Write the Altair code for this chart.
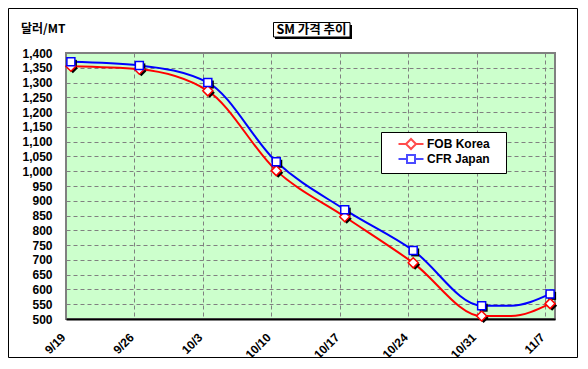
import altair as alt
import pandas as pd

# ---- data ----
dates = ["2008-09-19", "2008-09-26", "2008-10-03", "2008-10-10", "2008-10-17",
         "2008-10-24", "2008-10-31", "2008-11-03", "2008-11-07"]
has_marker = [1, 1, 1, 1, 1, 1, 1, 0, 1]
fob_korea = [1355, 1345, 1272, 1002, 846, 690, 510, 510, 552]
cfr_japan = [1370, 1358, 1300, 1032, 870, 732, 545, 545, 585]
series_names = ["FOB Korea", "CFR Japan"]
series_colors = ["#FF0000", "#0000FF"]
tick_dates = ["2008-09-19", "2008-09-26", "2008-10-03", "2008-10-10",
              "2008-10-17", "2008-10-24", "2008-10-31", "2008-11-07"]
y_ticks = [500, 550, 600, 650, 700, 750, 800, 850, 900, 950, 1000, 1050,
           1100, 1150, 1200, 1250, 1300, 1350, 1400]
chart_title = "SM 가격 추이"
unit_label = "달러/MT"

FONT = "Liberation Sans, Arial, 'Noto Sans CJK KR'"
KFONT = "'Noto Sans CJK KR', Liberation Sans"

rows = []
for name, vals in zip(series_names, [fob_korea, cfr_japan]):
    for d, m, v in zip(dates, has_marker, vals):
        rows.append({"t": d + "T12:00:00Z", "series": name, "value": v, "marker": m})
df = pd.DataFrame(rows)


def dt(s):
    y, m, d = (int(p) for p in s.split("-"))
    return alt.DateTime(year=y, month=m, date=d, utc=True)


x_enc = alt.X(
    "t:T",
    scale=alt.Scale(type="utc", domain=[dt("2008-09-19"), dt("2008-11-08")]),
    axis=alt.Axis(values=[dt(s) for s in tick_dates], tickCount=len(tick_dates),
                  format="%-m/%-d",
                  labelAngle=-45, labelAlign="right", labelBaseline="middle",
                  labelPadding=16, labelOffset=-3, title=None, domainColor="black",
                  domainWidth=2, labelOverlap=False),
)
y_enc = alt.Y(
    "value:Q",
    scale=alt.Scale(domain=[500, 1400], nice=False, zero=False),
    axis=alt.Axis(values=y_ticks, tickCount=len(y_ticks), format=",d", title=None,
                  domain=False, labelPadding=14, labelOverlap=False),
)

base = alt.Chart(df)

line_layers = []
for name, col in zip(series_names, series_colors):
    line_layers.append(
        base.transform_filter(alt.datum.series == name)
        .mark_line(interpolate="monotone", strokeWidth=2, color=col)
        .encode(x=x_enc, y=y_enc)
    )

marked = base.transform_filter("datum.marker == 1")
shapes = ["diamond", "square"]
sizes = [100, 64]
marker_layers = []
for name, col, shp, sz in zip(series_names, series_colors, shapes, sizes):
    sub = marked.transform_filter(alt.datum.series == name)
    marker_layers.append(
        sub.mark_point(shape=shp, size=sz, filled=True, color="black",
                       xOffset=2, yOffset=2, opacity=1).encode(x="t:T", y="value:Q")
    )
for name, col, shp, sz in zip(series_names, series_colors, shapes, sizes):
    sub = marked.transform_filter(alt.datum.series == name)
    marker_layers.append(
        sub.mark_point(shape=shp, size=sz, filled=False, fill="white", fillOpacity=1,
                       stroke=col, strokeWidth=1.5, opacity=1).encode(x="t:T", y="value:Q")
    )

legend_paths = [
    "M-2.5,0L-1,0M-1,0L0,-1L1,0L0,1ZM1,0L2.5,0",
    "M-2.5,0L-0.8,0M-0.8,-0.8L0.8,-0.8L0.8,0.8L-0.8,0.8ZM0.8,0L2.5,0",
]
leg = alt.Legend(title=None, orient="none", legendX=315, legendY=79,
                 labelExpr="datum.label + '\u00a0\u00a0\u00a0\u200b'")
legend_layer = base.transform_filter("datum.marker == 2").mark_point(
    filled=False, fill="white", strokeWidth=2
).encode(
    x="t:T", y="value:Q",
    stroke=alt.Stroke("series:N", scale=alt.Scale(domain=series_names, range=series_colors),
                      legend=leg),
    shape=alt.Shape("series:N", scale=alt.Scale(domain=series_names, range=legend_paths),
                    legend=leg),
)

one = alt.Data(values=[{"k": 1}])
frame = alt.Chart(one).mark_rect(fill="transparent", stroke="black", strokeWidth=1).encode(
    x=alt.value(-57.5), x2=alt.value(511.5), y=alt.value(-44.5), y2=alt.value(304.5))
title_shadow = alt.Chart(one).mark_rect(fill="black").encode(
    x=alt.value(209), x2=alt.value(286), y=alt.value(-28), y2=alt.value(-14))
title_box = alt.Chart(one).mark_rect(fill="white", stroke="black", strokeWidth=1).encode(
    x=alt.value(207.5), x2=alt.value(284), y=alt.value(-30.5), y2=alt.value(-16))
title_text = alt.Chart(one).mark_text(font=KFONT, fontSize=12.5, fontWeight="bold",
                                      color="black", align="center", baseline="middle").encode(
    x=alt.value(245.5), y=alt.value(-23), text=alt.value(chart_title))
unit_text = alt.Chart(one).mark_text(font=KFONT, fontSize=12, fontWeight="bold",
                                     color="black", align="left", baseline="middle").encode(
    x=alt.value(-45), y=alt.value(-24), text=alt.value(unit_label))

chart = alt.layer(
    *line_layers, *marker_layers, legend_layer, frame, title_shadow, title_box, title_text, unit_text
).properties(
    width=489, height=266,
    autosize=alt.AutoSizeParams(type="none"),
    padding={"left": 58, "top": 45, "right": 23, "bottom": 39},
    background="white",
).configure_view(
    fill="#CCFFCC", stroke="#808080", strokeWidth=2,
).configure_axis(
    grid=True, gridColor="#808080", gridDash=[4, 3], gridWidth=1,
    ticks=False, labelFont=FONT, labelFontSize=12, labelFontWeight="bold",
    labelColor="black",
).configure_legend(
    fillColor="white", strokeColor="black", padding=6, cornerRadius=0,
    labelFont=FONT, labelFontSize=12, labelFontWeight="bold", labelColor="black",
    symbolStrokeWidth=2, symbolSize=100, labelOffset=10, rowPadding=-4,
    symbolOffset=18, symbolFillColor="white",
)

chart.save("out.html", embed_options={"renderer": "svg", "actions": False})
